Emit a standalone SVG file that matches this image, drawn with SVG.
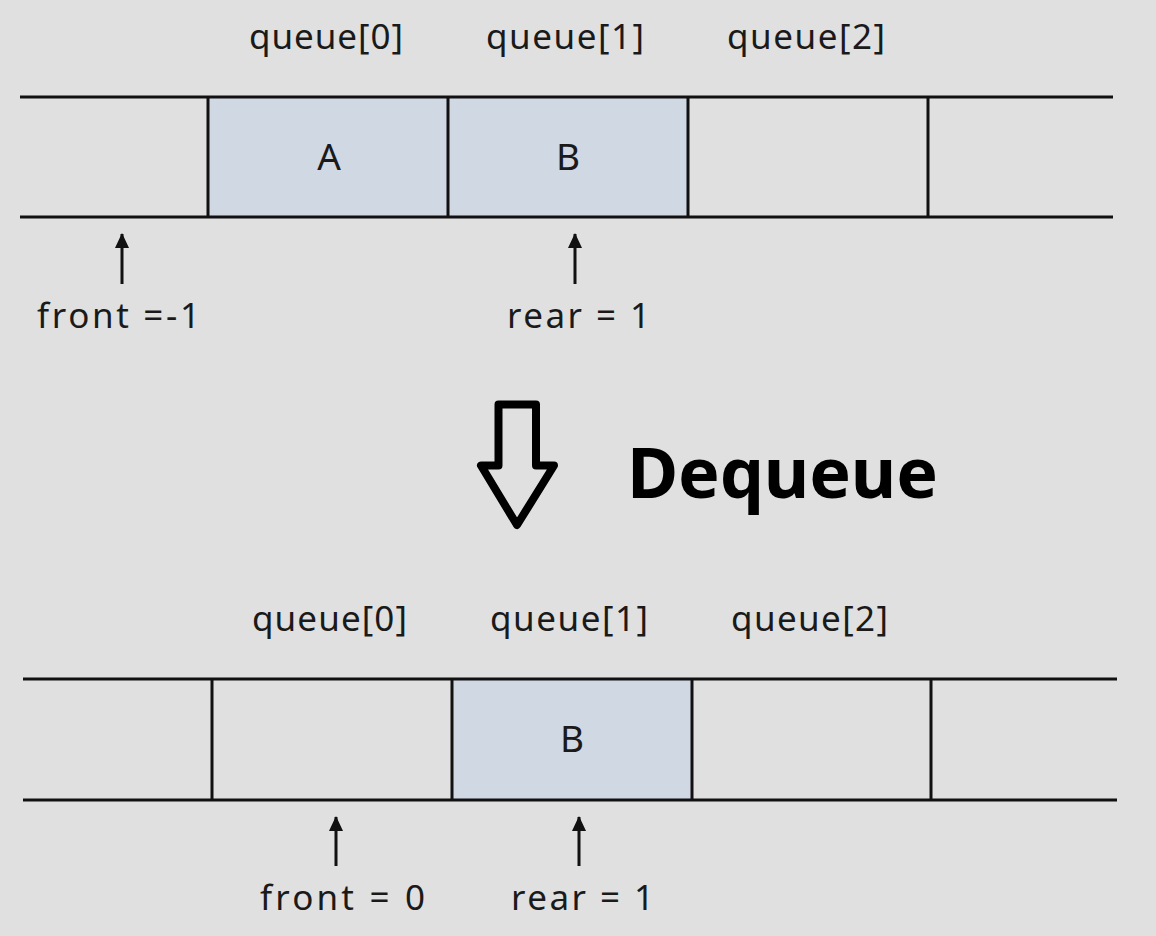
<svg xmlns="http://www.w3.org/2000/svg" width="1156" height="936" viewBox="0 0 1156 936">
<style>
.bg{fill:#e0e0e0}
.cell{fill:#d0d8e4}
.ln{stroke:#111;stroke-width:3;fill:none;stroke-linecap:butt}
.lbl{font-family:"Noto Sans","Open Sans","DejaVu Sans",sans-serif;font-size:35px;fill:#1a1a1a}
.val{font-family:"Noto Sans","Open Sans","DejaVu Sans",sans-serif;font-size:37px;fill:#1a1a1a;text-anchor:middle}
.ptr{stroke:#111;stroke-width:3;fill:none}
.big{font-family:"Noto Sans","Open Sans","DejaVu Sans",sans-serif;font-size:70px;font-weight:bold;fill:#000}
</style>
<defs>
<marker id="head" markerUnits="userSpaceOnUse" markerWidth="16" markerHeight="16" viewBox="0 0 16 16" refX="14" refY="8" orient="auto">
<path d="M0,1 L15,8 L0,15 Z" fill="#111"/>
</marker>
</defs>
<rect class="bg" x="0" y="0" width="1156" height="936"/>

<!-- top queue -->
<g id="top-queue">
<g id="top-cell-0"><rect class="cell" x="208" y="97" width="240" height="120"/><text class="val" x="329" y="170">A</text></g>
<g id="top-cell-1"><rect class="cell" x="448" y="97" width="240" height="120"/><text class="val" x="568" y="170">B</text></g>
<line class="ln" x1="20" y1="97" x2="1113" y2="97"/>
<line class="ln" x1="20" y1="217" x2="1113" y2="217"/>
<line class="ln" x1="208" y1="97" x2="208" y2="217"/>
<line class="ln" x1="448" y1="97" x2="448" y2="217"/>
<line class="ln" x1="688" y1="97" x2="688" y2="217"/>
<line class="ln" x1="928" y1="97" x2="928" y2="217"/>
</g>
<g id="top-labels">
<text class="lbl" x="249" y="49" textLength="154">queue[0]</text>
<text class="lbl" x="486" y="49" textLength="158">queue[1]</text>
<text class="lbl" x="727" y="49" textLength="158">queue[2]</text>
<text class="lbl" x="37" y="328" textLength="163">front =-1</text>
<text class="lbl" x="507" y="328" textLength="143">rear = 1</text>
</g>

<!-- dequeue -->
<g id="dequeue-arrow">
<path d="M498.5,404.5 L536,404.5 L536,465.5 L554,465.5 L517,525 L481,465.5 L498.5,465.5 Z" fill="none" stroke="#000" stroke-width="8" stroke-linejoin="round"/>
</g>
<g id="dequeue-label"><text class="big" x="627" y="498" textLength="311">Dequeue</text></g>

<!-- bottom queue -->
<g id="bottom-queue">
<g id="bot-cell-1"><rect class="cell" x="452" y="679" width="240" height="121"/><text class="val" x="572" y="752">B</text></g>
<line class="ln" x1="23" y1="679" x2="1117" y2="679"/>
<line class="ln" x1="23" y1="800" x2="1117" y2="800"/>
<line class="ln" x1="212" y1="679" x2="212" y2="800"/>
<line class="ln" x1="452" y1="679" x2="452" y2="800"/>
<line class="ln" x1="692" y1="679" x2="692" y2="800"/>
<line class="ln" x1="931" y1="679" x2="931" y2="800"/>
</g>
<g id="bottom-labels">
<text class="lbl" x="252" y="631" textLength="155">queue[0]</text>
<text class="lbl" x="490" y="631" textLength="158">queue[1]</text>
<text class="lbl" x="731" y="631" textLength="157">queue[2]</text>
<text class="lbl" x="260" y="910" textLength="165">front = 0</text>
<text class="lbl" x="511" y="910" textLength="143">rear = 1</text>
</g>

<g id="connectors">
<line class="ptr" x1="122" y1="284" x2="122" y2="234" marker-end="url(#head)"/>
<line class="ptr" x1="575" y1="284" x2="575" y2="234" marker-end="url(#head)"/>
<line class="ptr" x1="336" y1="866" x2="336" y2="817" marker-end="url(#head)"/>
<line class="ptr" x1="579" y1="866" x2="579" y2="817" marker-end="url(#head)"/>
</g>
</svg>
